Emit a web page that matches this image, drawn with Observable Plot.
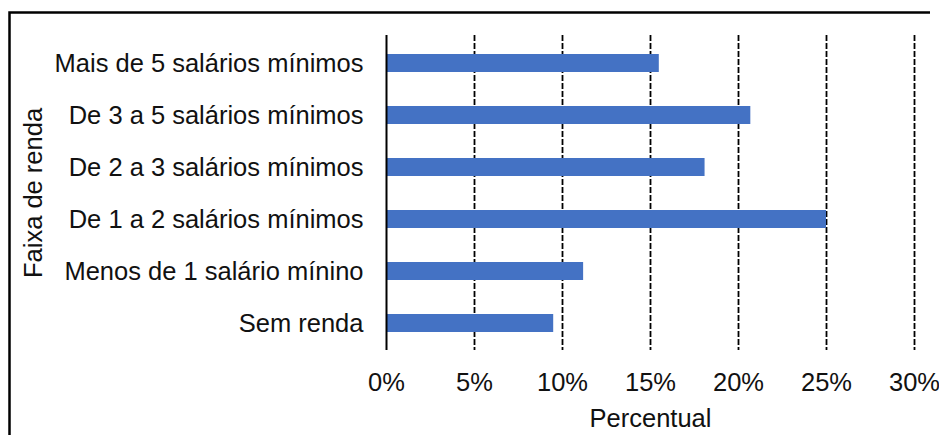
<!DOCTYPE html>
<html>
<head>
<meta charset="utf-8">
<script src="https://cdn.jsdelivr.net/npm/d3@7"></script>
<script src="https://cdn.jsdelivr.net/npm/@observablehq/plot@0.6"></script>
<style>
  html, body { margin: 0; padding: 0; background: #fff; }
  #chart { width: 939px; height: 435px; overflow: hidden; }
</style>
</head>
<body>
<div id="chart"></div>
<script>
// Income brackets (top to bottom) and their share of respondents, in percent
const categories = [
  "Mais de 5 salários mínimos",
  "De 3 a 5 salários mínimos",
  "De 2 a 3 salários mínimos",
  "De 1 a 2 salários mínimos",
  "Menos de 1 salário mínino",
  "Sem renda"
];
const shares = [15.5, 20.7, 18.1, 25.0, 11.2, 9.5];
const xTicks = [0, 5, 10, 15, 20, 25, 30];
const xLabel = "Percentual";
const yLabel = "Faixa de renda";

const rows = categories.map((category, i) => ({category, share: shares[i]}));
const font = "'Liberation Sans', Arial, sans-serif";
const size = 25.5;
const ink = "#111";

const chart = Plot.plot({
  width: 939,
  height: 435,
  marginLeft: 386,
  marginRight: 25,
  marginTop: 35,
  marginBottom: 85,
  style: {fontFamily: font, fontSize: size + "px", color: ink, background: "#fff"},
  x: {domain: [0, 30], ticks: xTicks, label: null},
  y: {domain: categories, paddingInner: 0.66, paddingOuter: 0.33, label: null},
  marks: [
    // dashed vertical gridlines
    Plot.ruleX(xTicks.filter(t => t > 0), {stroke: "#000", strokeWidth: 1.8, strokeDasharray: "6,2"}),
    Plot.barX(rows, {x: "share", y: "category", fill: "#4472C4"}),
    // baseline at 0%
    Plot.ruleX([0], {stroke: "#000", strokeWidth: 2}),
    Plot.axisX({ticks: xTicks, tickFormat: d => d + "%", tickSize: 0, tickPadding: 22, fontSize: size, label: null}),
    Plot.axisY({tickSize: 0, tickPadding: 23, fontSize: size, label: null}),
    Plot.text([xLabel], {frameAnchor: "bottom", dy: 68, lineAnchor: "middle", textAnchor: "middle", fontSize: size, fill: ink}),
    Plot.text([yLabel], {frameAnchor: "left", dx: -353, rotate: -90, lineAnchor: "middle", textAnchor: "middle", fontSize: size, fill: ink})
  ]
});

// outer frame line (left and top edges)
d3.select(chart).append("path")
  .attr("d", "M9.5,435V12.5H930")
  .attr("fill", "none")
  .attr("stroke", "#000")
  .attr("stroke-width", 2.5);

document.getElementById("chart").appendChild(chart);
</script>
</body>
</html>
